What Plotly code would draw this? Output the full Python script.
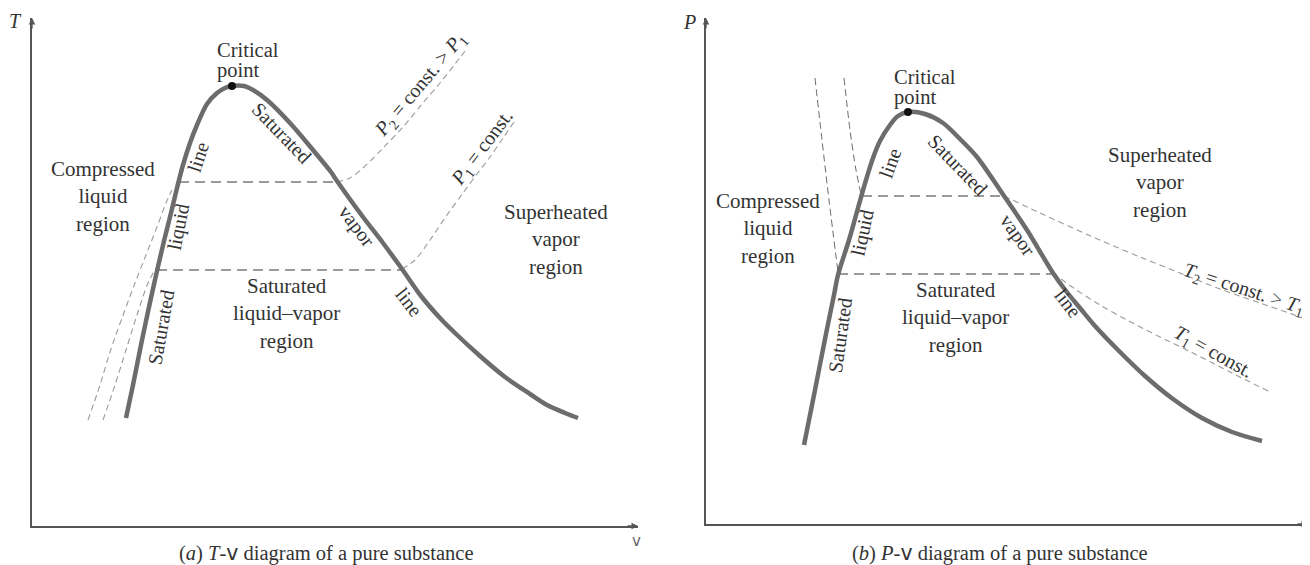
import plotly.graph_objects as go

W, H = 1310, 565
OFF = 8  # page body margin of the html page

# ---------------- (a) T-v diagram (arbitrary units) ----------------
tv_liq_v = [94, 101, 109, 117, 125, 132, 139, 145, 151, 158, 165, 175, 185, 193, 200]
tv_liq_T = [108, 141, 181, 219, 255, 285, 313, 338, 361, 383, 401, 422, 433, 438, 440]
tv_vap_v = [200, 212, 221, 235, 258, 281, 299, 305, 331, 351, 370, 389, 408, 423, 448, 473, 498, 515, 533, 546]
tv_vap_T = [440, 440, 436, 426, 403, 376, 354, 345, 309, 283, 257, 230, 208, 193, 170, 149, 132, 121, 113, 108]
tv_crit_v = [200]
tv_crit_T = [440]
tv_P2_v = [305, 318, 331, 351, 371, 390, 408, 423, 433]
tv_P2_T = [344, 348, 358, 378, 399, 422, 443, 462, 475]
tv_P1_v = [370, 383, 398, 415, 431, 445, 458, 471, 482]
tv_P1_T = [257, 266, 286, 311, 333, 352, 369, 388, 404]
tv_hi_v = [147, 305]
tv_hi_T = [344, 344]
tv_lo_v = [125, 370]
tv_lo_T = [256, 256]
tv_clo_v = [56, 68, 78, 90, 103, 114, 125, 134, 140]
tv_clo_T = [106, 141, 174, 208, 243, 271, 299, 323, 336]
tv_cli_v = [71, 83, 94, 105, 116, 124]
tv_cli_T = [106, 141, 176, 211, 243, 258]

# ---------------- (b) P-v diagram ----------------
pv_liq_v = [98, 109, 120, 128, 132, 143, 152, 160, 167, 174, 184, 192, 202]
pv_liq_P = [79, 134, 190, 229, 249, 284, 316, 344, 366, 383, 399, 408, 412]
pv_vap_v = [202, 219, 237, 254, 271, 294, 321, 347, 360, 374, 389, 414, 439, 467, 496, 526, 556]
pv_vap_P = [412, 410, 401, 385, 367, 334, 294, 251, 233, 216, 198, 172, 148, 125, 106, 92, 83]
pv_crit_v = [202]
pv_crit_P = [412]
pv_T2_v = [298, 334, 387, 434, 474, 514, 554, 597]
pv_T2_P = [328, 311, 287, 267, 251, 235, 221, 206]
pv_T1_v = [347, 369, 394, 421, 454, 487, 524, 564]
pv_T1_P = [251, 235, 219, 204, 187, 171, 152, 132]
pv_hi_v = [156, 298]
pv_hi_P = [328, 328]
pv_lo_v = [132, 347]
pv_lo_P = [250, 250]
pv_clo_v = [109, 116, 123, 132]
pv_clo_P = [446, 384, 324, 252]
pv_cli_v = [138, 144, 150, 155]
pv_cli_P = [446, 394, 354, 330]

# labels: text, panel, x, y, angle, size
label_text = [
    "Critical", "point", "Compressed<br>liquid<br>region", "Saturated<br>liquid\u2013vapor<br>region",
    "Superheated<br>vapor<br>region", "line", "liquid", "Saturated", "Saturated", "vapor", "line",
    "<i>P</i><sub>2</sub> = const. > <i>P</i><sub>1</sub>", "<i>P</i><sub>1</sub> = const.",
    "Critical", "point", "Compressed<br>liquid<br>region", "Saturated<br>liquid\u2013vapor<br>region",
    "Superheated<br>vapor<br>region", "line", "liquid", "Saturated", "Saturated", "vapor", "line",
    "<i>T</i><sub>2</sub> = const. > <i>T</i><sub>1</sub>", "<i>T</i><sub>1</sub> = const.",
]
label_panel = [1] * 13 + [2] * 13
label_x = [183, 183, 71, 254, 524, 166, 146, 129, 250, 325, 377, 388, 450,
           186, 186, 62, 249, 454, 184, 156, 134, 252, 312, 362, 538, 507]
label_y = [476, 456, 330, 213, 287, 369, 299, 199, 393, 300, 224, 441, 378,
           447, 427, 296, 207, 342, 361, 291, 189, 359, 289, 221, 235, 172]
label_angle = [0, 0, 0, 0, 0, -72, -79, -80, 46, 53, 52, -50, -53,
               0, 0, 0, 0, 0, -70, -78, -82, 46, 55, 52, 18, 29]
label_size = [20.5, 20.5, 21, 21, 21, 20, 20, 20, 20, 20, 20, 20, 20,
              20.5, 20.5, 21, 21, 21, 20, 20, 20, 20, 20, 20, 20, 20]

TXT = "#333333"
CURVE = "#6c6c6c"
FONT = "Liberation Serif"


def px(x):
    return (x - OFF) / W


def py(y):
    return 1 - (y - OFF) / H


fig = go.Figure()


def add_line(x, y, xa, ya, color, width, dash=None, spline=True):
    fig.add_trace(go.Scatter(
        x=x, y=y, xaxis=xa, yaxis=ya, mode="lines",
        line=dict(color=color, width=width, dash=dash,
                  shape="spline" if spline else "linear", smoothing=0.9),
        hoverinfo="skip", showlegend=False))


# panel (a)
add_line(tv_clo_v, tv_clo_T, "x", "y", "#9a9a9a", 1.1, "6px,4px")
add_line(tv_cli_v, tv_cli_T, "x", "y", "#9a9a9a", 1.1, "6px,4px")
add_line(tv_hi_v, tv_hi_T, "x", "y", "#7a7a7a", 1.3, "10px,6px", False)
add_line(tv_lo_v, tv_lo_T, "x", "y", "#7a7a7a", 1.3, "10px,6px", False)
add_line(tv_P2_v, tv_P2_T, "x", "y", "#9a9a9a", 1.1, "6px,4px")
add_line(tv_P1_v, tv_P1_T, "x", "y", "#9a9a9a", 1.1, "6px,4px")
add_line(tv_liq_v + tv_vap_v[1:], tv_liq_T + tv_vap_T[1:], "x", "y", CURVE, 4.5)
fig.add_trace(go.Scatter(x=tv_crit_v, y=tv_crit_T, xaxis="x", yaxis="y", mode="markers",
                         marker=dict(color="#111111", size=8), hoverinfo="skip", showlegend=False))

# panel (b)
add_line(pv_clo_v, pv_clo_P, "x2", "y2", "#6a6a6a", 1.0, "7px,4px")
add_line(pv_cli_v, pv_cli_P, "x2", "y2", "#6a6a6a", 1.0, "7px,4px")
add_line(pv_hi_v, pv_hi_P, "x2", "y2", "#7a7a7a", 1.3, "10px,6px", False)
add_line(pv_lo_v, pv_lo_P, "x2", "y2", "#7a7a7a", 1.3, "10px,6px", False)
add_line(pv_T2_v, pv_T2_P, "x2", "y2", "#9a9a9a", 1.1, "6px,4px")
add_line(pv_T1_v, pv_T1_P, "x2", "y2", "#9a9a9a", 1.1, "6px,4px")
add_line(pv_liq_v + pv_vap_v[1:], pv_liq_P + pv_vap_P[1:], "x2", "y2", CURVE, 4.5)
fig.add_trace(go.Scatter(x=pv_crit_v, y=pv_crit_P, xaxis="x2", yaxis="y2", mode="markers",
                         marker=dict(color="#111111", size=8), hoverinfo="skip", showlegend=False))

ann = []
for t, p, x, y, a, s in zip(label_text, label_panel, label_x, label_y, label_angle, label_size):
    xref = "x" if p == 1 else "x2"
    yref = "y" if p == 1 else "y2"
    left = t in ("Critical", "point")
    ann.append(dict(text=t, x=x, y=y, xref=xref, yref=yref, showarrow=False,
                    textangle=a, xanchor="left" if left else "center", yanchor="middle",
                    align="left" if left else "center",
                    font=dict(family=FONT, size=s, color=TXT)))

VSPAN = "<span style='font-family:DejaVu Sans'>v</span>"


def paper_text(text, x, y, size, color=TXT, family=FONT):
    return dict(text=text, x=px(x), y=py(y), xref="paper", yref="paper", showarrow=False,
                xanchor="center", yanchor="middle", align="center",
                font=dict(family=family, size=size, color=color))


# axis labels & captions (paper coordinates)
ann += [
    paper_text("<i>T</i>", 15, 21, 20),
    paper_text("v", 636, 541, 15, "#666666", "DejaVu Sans"),
    paper_text("(<i>a</i>) <i>T</i>-" + VSPAN + " diagram of a pure substance", 326, 553, 20.5),
    paper_text("<i>P</i>", 689, 22, 20),
    paper_text("v", 1306, 541, 15, "#666666", "DejaVu Sans"),
    paper_text("(<i>b</i>) <i>P</i>-" + VSPAN + " diagram of a pure substance", 1000, 553, 20.5),
]
# axis arrowheads
for xr, yr, xt, yt, ax, ay in [("x", "y", 0, 508, 0, 12), ("x", "y", 606, 0, -12, 0),
                               ("x2", "y2", 0, 506, 0, 12), ("x2", "y2", 602, 0, -12, 0)]:
    ann.append(dict(text="", x=xt, y=yt, xref=xr, yref=yr, ax=ax, ay=ay, showarrow=True,
                    arrowhead=2, arrowsize=1, arrowwidth=1.3, arrowcolor="#555555"))

ax_common = dict(showgrid=False, zeroline=False, showticklabels=False, ticks="",
                 showline=True, linecolor="#555555", linewidth=1.5, fixedrange=True)

fig.update_layout(
    width=W, height=H, margin=dict(l=0, r=0, t=0, b=0),
    paper_bgcolor="white", plot_bgcolor="white", showlegend=False,
    xaxis=dict(domain=[px(32), px(638)], range=[0, 606], anchor="y", **ax_common),
    yaxis=dict(domain=[py(526), py(18)], range=[0, 508], anchor="x", **ax_common),
    xaxis2=dict(domain=[px(706), px(1308)], range=[0, 602], anchor="y2", **ax_common),
    yaxis2=dict(domain=[py(524), py(18)], range=[0, 506], anchor="x2", **ax_common),
    annotations=ann,
)

fig.write_html("out.html")
